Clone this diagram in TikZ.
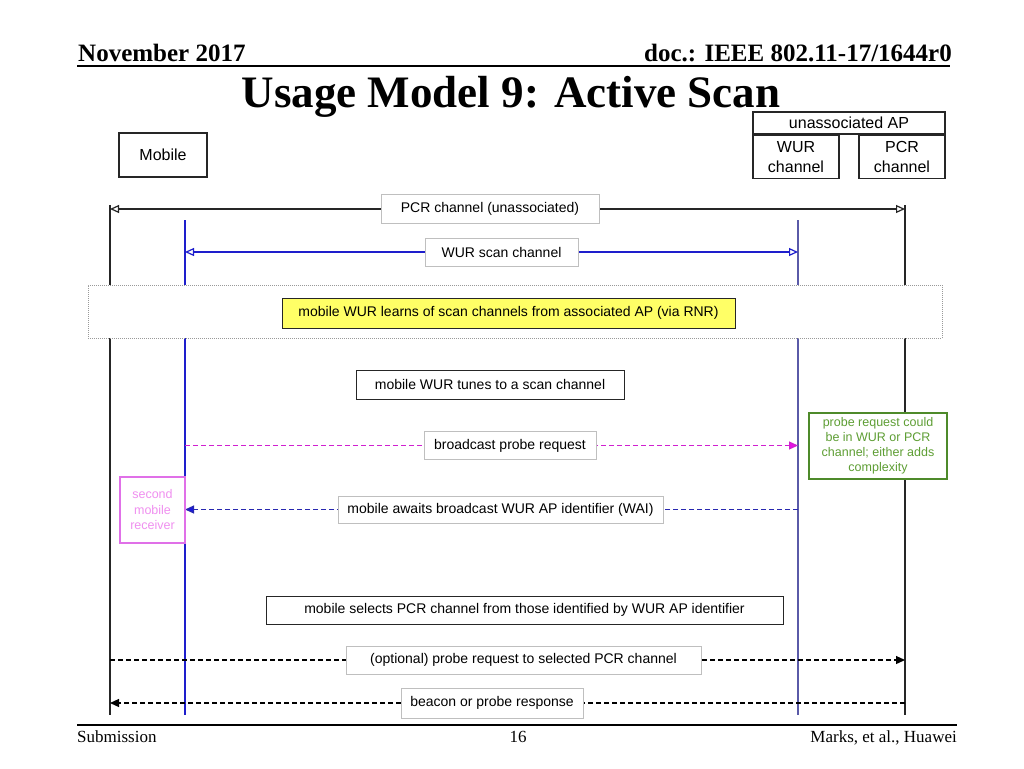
\documentclass[tikz,border=0pt]{standalone}
\usepackage{fontspec}
\setmainfont{Liberation Serif}
\setsansfont{Liberation Sans}
\usepackage{tikz}
\usetikzlibrary{arrows.meta}
\usetikzlibrary{backgrounds}
\usetikzlibrary{positioning}

\definecolor{wurblue}{HTML}{1E1ECC}
\definecolor{apblue}{HTML}{5A5AA8}
\definecolor{probemag}{HTML}{D020D0}
\definecolor{probetip}{HTML}{E810E8}
\definecolor{waiblue}{HTML}{2828B0}
\definecolor{waitip}{HTML}{1818E0}
\definecolor{notegreen}{HTML}{4E8A2A}
\definecolor{notetext}{HTML}{5E9E34}
\definecolor{rxmag}{HTML}{E070E8}
\definecolor{rxtext}{HTML}{F090F0}
\definecolor{rnryellow}{HTML}{FFFF66}

\tikzset{
  hdr/.style={inner sep=0pt, font=\bfseries\fontsize{25}{28}\selectfont},
  titletxt/.style={inner sep=0pt, font=\bfseries\fontsize{45}{50}\selectfont},
  foot/.style={inner sep=0pt, font=\fontsize{17}{20}\selectfont},
  actor/.style={draw=black!85, line width=1.6pt, fill=white, inner sep=0pt,
    align=center, font=\sffamily\fontsize{16}{20}\selectfont},
  msglbl/.style={draw=black!25, fill=white, inner sep=0pt,
    font=\sffamily\fontsize{14}{16}\selectfont},
  stepbox/.style={draw=black!85, line width=1pt, fill=white, inner sep=0pt,
    font=\sffamily\fontsize{14}{16}\selectfont},
  band/.style={draw=black!40, densely dotted, line width=1pt, fill=white},
  notebox/.style={draw=notegreen, line width=2pt, fill=white, text=notetext,
    align=center, inner sep=0pt, font=\sffamily\fontsize{12.5}{15}\selectfont},
  rxbox/.style={draw=rxmag, line width=2pt, fill=white, text=rxtext,
    align=center, inner sep=0pt, font=\sffamily\fontsize{12.5}{15.5}\selectfont},
  pcrline/.style={line width=1.2pt, black!85},
  wurline/.style={line width=1.2pt, wurblue},
  opentip/.style={{Triangle[open, length=9pt, width=8pt]}-{Triangle[open, length=9pt, width=8pt]}},
  dashmsg/.style={line width=1.2pt, dash pattern=on 5pt off 3pt},
}

\begin{document}
\begin{tikzpicture}[x=1pt, y=-1pt]
  \useasboundingbox (0,0) rectangle (1024,768);

  % header
  \node[hdr, anchor=base west] (month) at (78,61) {November 2017};
  \node[hdr, anchor=base east] (docid) at (952,61) {doc.: IEEE 802.11-17/1644r0};
  \draw[line width=1.5pt] (77,66) -- (950,66);
  \node[titletxt, anchor=base] (title) at (511,107) {Usage Model 9: Active Scan};

  % actors
  \node[actor, minimum width=88, minimum height=44] (mobile) at (163,155) {Mobile};
  \node[actor, minimum width=192, minimum height=22] (unassoc) at (849,123) {unassociated AP};
  \node[actor, minimum width=86, minimum height=43, anchor=north west] (apwur)
    at (unassoc.south west) {WUR\\channel};
  \node[actor, minimum width=86, minimum height=43, anchor=north east] (appcr)
    at (unassoc.south east) {PCR\\channel};

  % lifelines
  \coordinate (mpcr) at (110,205);
  \coordinate (mwur) at (185,220);
  \coordinate (awur) at (798,220);
  \coordinate (apcr) at (905,205);
  \coordinate (llend) at (0,715);

  % channels
  \node[msglbl, minimum width=218, minimum height=29] (pcrch) at (490,209) {PCR channel (unassociated)};
  \node[msglbl, minimum width=153, minimum height=28] (wurch) at (501.5,252) {WUR scan channel};

  \node[band, minimum width=854, minimum height=53] (rnrband) at (515,311.5) {};
  \node[stepbox, fill=rnryellow, minimum width=453, minimum height=30] (rnr) at (508.5,313)
    {mobile WUR learns of scan channels from associated AP (via RNR)};

  \node[stepbox, minimum width=268, minimum height=29] (tune) at (490,384.5) {mobile WUR tunes to a scan channel};

  % probing
  \node[msglbl, minimum width=172, minimum height=28] (probe) at (510,445.5) {broadcast probe request};
  \node[notebox, minimum width=138, minimum height=66] (note) at (878,446)
    {probe request could\\be in WUR or PCR\\channel; either adds\\complexity};
  \node[msglbl, minimum width=325, minimum height=27] (wai) at (500.5,509.5) {mobile awaits broadcast WUR AP identifier (WAI)};
  \node[rxbox, minimum width=65, minimum height=66] (second) at (152.5,510) {second\\mobile\\receiver};

  \node[stepbox, minimum width=517, minimum height=28] (select) at (524.5,610)
    {mobile selects PCR channel from those identified by WUR AP identifier};
  \node[msglbl, minimum width=355, minimum height=28] (optreq) at (523.5,660) {(optional) probe request to selected PCR channel};
  \node[msglbl, minimum width=182, minimum height=30] (beacon) at (492,703) {beacon or probe response};

  \begin{scope}[on background layer]
    \fill[white] (0,0) rectangle (1024,768);
    \draw[pcrline] (mpcr) -- (mpcr |- llend);
    \draw[pcrline] (apcr) -- (apcr |- llend);
    \draw[wurline] (mwur) -- (mwur |- llend);
    \draw[wurline, apblue] (awur) -- (awur |- llend);

    \draw[pcrline, opentip] (mpcr |- pcrch) -- (apcr |- pcrch);
    \draw[wurline, opentip] (mwur |- wurch) -- (awur |- wurch);

    \draw[dashmsg, probemag, -{Triangle[length=9pt, width=8pt, fill=probetip]}] (mwur |- probe) -- (awur |- probe);
    \draw[dashmsg, waiblue, -{Triangle[length=9pt, width=8pt, fill=waitip]}] (awur |- wai) -- (mwur |- wai);
    \draw[dashmsg, black, -{Triangle[length=9pt, width=8pt]}] (mpcr |- optreq) -- (apcr |- optreq);
    \draw[dashmsg, black, -{Triangle[length=9pt, width=8pt]}] (apcr |- beacon) -- (mpcr |- beacon);
  \end{scope}

  % footer
  \draw[line width=1.5pt] (77,725) -- (957,725);
  \node[foot, anchor=base west] (submission) at (77,742) {Submission};
  \node[foot, anchor=base] (pageno) at (518,742) {16};
  \node[foot, anchor=base east] (authors) at (957,742) {Marks, et al., Huawei};
\end{tikzpicture}
\end{document}
